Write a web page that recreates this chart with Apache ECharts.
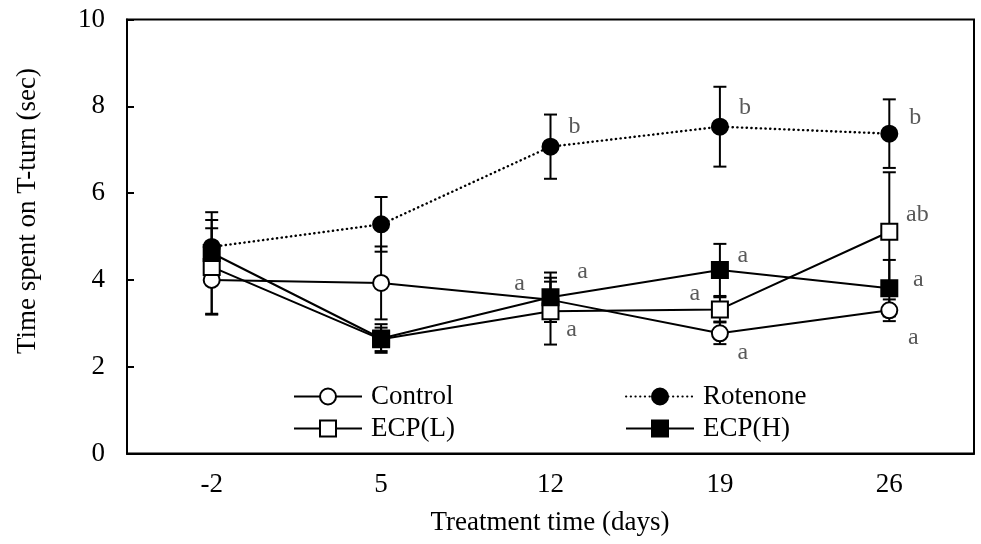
<!DOCTYPE html>
<html>
<head>
<meta charset="utf-8">
<script src="https://cdn.jsdelivr.net/npm/echarts@6/dist/echarts.min.js"></script>
<style>
  html, body { margin: 0; padding: 0; background: #fff; }
  #chart { width: 981px; height: 544px; }
</style>
</head>
<body>
<div id="chart"></div>
<script>
// Treatment days (x categories) and y-axis ticks
const days = ['-2', '5', '12', '19', '26'];
const yTicks = [0, 2, 4, 6, 8, 10];

// Mean time spent on T-turn (sec) for each group
const control  = [4.00, 3.93, 3.54, 2.77, 3.30];
const rotenone = [4.76, 5.28, 7.07, 7.53, 7.37];
const ecpL     = [4.30, 2.63, 3.28, 3.32, 5.11];
const ecpH     = [4.62, 2.65, 3.60, 4.23, 3.81];

// Error (± SEM) for each group
const controlErr  = [0.80, 0.84, 0.42, 0.25, 0.25];
const rotenoneErr = [0.80, 0.63, 0.74, 0.92, 0.79];
const ecpLErr     = [1.08, 0.27, 0.77, 0.28, 1.37];
const ecpHErr     = [0.57, 0.33, 0.57, 0.60, 0.65];

// Significance letters (null = none shown)
const controlSig  = [null, null, 'a', 'a', 'a'];
const rotenoneSig = [null, null, 'b', 'b', 'b'];
const ecpLSig     = [null, null, 'a', 'a', 'ab'];
const ecpHSig     = [null, null, 'a', 'a', 'a'];

// Where each letter sits relative to its marker
const controlOff  = [null, null, [21, 30], [23, 19], [24, 27]];
const rotenoneOff = [null, null, [24, -20], [25, -19], [26, -16]];
const ecpLOff     = [null, null, [-31, -27], [-25, -16], [28, -17]];
const ecpHOff     = [null, null, [32, -26], [23, -14], [29, -8]];

const FONT = '"Liberation Serif", "Times New Roman", serif';

function withLabels(values, sig, off) {
  return values.map((v, i) => {
    if (!sig[i]) return { value: v };
    return {
      value: v,
      label: {
        show: true, formatter: sig[i], position: 'inside', offset: off[i],
        color: '#595959', fontSize: 24, fontFamily: FONT
      }
    };
  });
}

function errData(values, errs) {
  return values.map((v, i) => [i, v - errs[i], v + errs[i]]);
}

function errorSeries(name, values, errs) {
  return {
    type: 'custom',
    name: name + ' err',
    z: 1,
    silent: true,
    encode: { x: 0, y: [1, 2] },
    data: errData(values, errs),
    renderItem: function (params, api) {
      const idx = api.value(0);
      const hi = api.coord([idx, api.value(2)]);
      const lo = api.coord([idx, api.value(1)]);
      const hw = 6.5;
      const st = { stroke: '#000', lineWidth: 2 };
      return {
        type: 'group',
        children: [
          { type: 'line', shape: { x1: hi[0], y1: hi[1], x2: lo[0], y2: lo[1] }, style: st },
          { type: 'line', shape: { x1: hi[0] - hw, y1: hi[1], x2: hi[0] + hw, y2: hi[1] }, style: st },
          { type: 'line', shape: { x1: lo[0] - hw, y1: lo[1], x2: lo[0] + hw, y2: lo[1] }, style: st }
        ]
      };
    }
  };
}

function lineSeries(name, values, sig, off, symbol, dotted) {
  return {
    type: 'line',
    name: name,
    z: 3,
    data: withLabels(values, sig, off),
    symbol: symbol,
    symbolSize: 16,
    showAllSymbol: true,
    color: '#000',
    itemStyle: { color: '#000', borderColor: '#000', borderWidth: 2 },
    lineStyle: dotted
      ? { color: '#000', width: 2.4, type: [0.3, 4.4], cap: 'round' }
      : { color: '#000', width: 2, type: 'solid' },
    emphasis: { disabled: true },
    animation: false
  };
}

function legendItem(name, left, top) {
  return {
    data: [name],
    left: left, top: top,
    padding: 0,
    orient: 'horizontal',
    itemWidth: 68, itemHeight: 20,
    itemGap: 0,
    selectedMode: false,
    textStyle: { fontFamily: FONT, fontSize: 27, color: '#000', padding: [0, 0, 0, 4] }
  };
}

const chart = echarts.init(document.getElementById('chart'), null, { renderer: 'canvas' });

chart.setOption({
  backgroundColor: '#fff',
  animation: false,
  grid: {
    left: 127, right: 7, top: 19.5, bottom: 90.5,
    show: true, borderColor: '#000', borderWidth: 2, backgroundColor: 'transparent'
  },
  xAxis: {
    type: 'category',
    data: days,
    boundaryGap: true,
    axisLine: { show: true, lineStyle: { color: '#000', width: 2 } },
    axisTick: { show: false },
    axisLabel: { color: '#000', fontFamily: FONT, fontSize: 27, margin: 18 }
  },
  yAxis: {
    type: 'value',
    min: yTicks[0], max: yTicks[yTicks.length - 1], interval: 2,
    axisLine: { show: true, lineStyle: { color: '#000', width: 2 } },
    axisTick: { show: true, inside: true, length: 7, lineStyle: { color: '#000', width: 2 } },
    splitLine: { show: false },
    axisLabel: { color: '#000', fontFamily: FONT, fontSize: 27, margin: 22 }
  },
  legend: [
    legendItem('Control', 293, 383),
    legendItem('Rotenone', 625, 383),
    legendItem('ECP(L)', 293, 415),
    legendItem('ECP(H)', 625, 415)
  ],
  graphic: [
    {
      type: 'text',
      x: 550, y: 523,
      style: {
        text: 'Treatment time (days)', font: '27px ' + FONT, fill: '#000',
        align: 'center', verticalAlign: 'middle'
      }
    },
    {
      type: 'text',
      x: 28, y: 211,
      rotation: Math.PI / 2,
      style: {
        text: 'Time spent on T-turn (sec)', font: '27px ' + FONT, fill: '#000',
        align: 'center', verticalAlign: 'middle'
      }
    }
  ],
  series: [
    errorSeries('Control', control, controlErr),
    errorSeries('Rotenone', rotenone, rotenoneErr),
    errorSeries('ECP(L)', ecpL, ecpLErr),
    errorSeries('ECP(H)', ecpH, ecpHErr),
    lineSeries('Control', control, controlSig, controlOff, 'emptyCircle', false),
    lineSeries('Rotenone', rotenone, rotenoneSig, rotenoneOff, 'circle', true),
    lineSeries('ECP(L)', ecpL, ecpLSig, ecpLOff, 'emptyRect', false),
    lineSeries('ECP(H)', ecpH, ecpHSig, ecpHOff, 'rect', false)
  ]
});
</script>
</body>
</html>
